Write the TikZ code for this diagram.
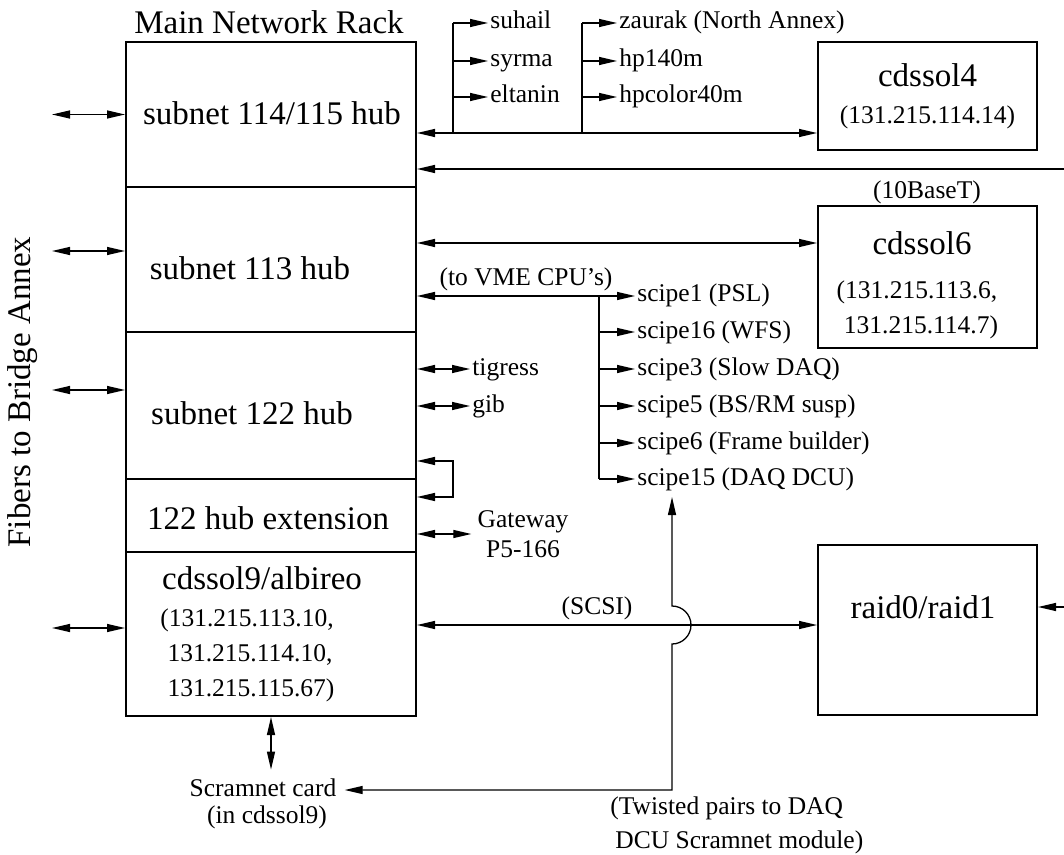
\documentclass[tikz,border=0pt]{standalone}
\usepackage{fontspec}
\setmainfont{Liberation Serif}
\usetikzlibrary{shapes, arrows, arrows.meta}
\newcommand{\bigtxt}{\fontsize{16.5}{19.8}\selectfont}
\newcommand{\smalltxt}{\fontsize{12.75}{15.3}\selectfont}
\tikzstyle{rack} = [rectangle, draw=black, line width=1pt, minimum width=145pt, inner sep=0pt]
\tikzstyle{host} = [rectangle, draw=black, line width=1pt, minimum width=109.5pt, inner sep=0pt]
\tikzstyle{bigtext} = [font=\bigtxt, inner sep=0pt]
\tikzstyle{smalltext} = [font=\smalltxt, inner sep=0pt]
\tikzstyle{tap} = [font=\smalltxt, anchor=west, inner sep=1pt, text height=9pt, text depth=3pt]
\tikzstyle{wire} = [line width=0.65pt]
\tikzstyle{arrow} = [wire, -{Triangle[length=9pt, width=4pt]}]
\tikzstyle{dblarrow} = [wire, {Triangle[length=9pt, width=4pt]}-{Triangle[length=9pt, width=4pt]}]
\tikzstyle{linelabel} = [font=\smalltxt, above, inner sep=2pt]

\begin{document}
\begin{tikzpicture}[x=0.5pt, y=-0.5pt]
    \useasboundingbox (0,0) rectangle (1064,855);
    % Nodes
    \node (hubA) [rack, minimum height=72.5pt] at (271,114.5) {};
    \node (hubB) [rack, minimum height=72.5pt] at (271,259.5) {};
    \node (hubC) [rack, minimum height=73.5pt] at (271,405.5) {};
    \node (hubExt) [rack, minimum height=36.5pt] at (271,515.5) {};
    \node (sol9) [rack, minimum height=82pt] at (271,634) {};
    \node (rackname) [bigtext] at (269,22) {Main Network Rack};
    \node (hubAname) [bigtext] at (272,113) {subnet 114/115 hub};
    \node (hubBname) [bigtext] at (250,268) {subnet 113 hub};
    \node (hubCname) [bigtext] at (252,413) {subnet 122 hub};
    \node (hubExtname) [bigtext] at (268,518) {122 hub extension};
    \node (sol9name) [bigtext] at (262,578) {cdssol9/albireo};
    \node (sol9ipA) [smalltext] at (247,620) {(131.215.113.10,};
    \node (sol9ipB) [smalltext] at (250,655) {131.215.114.10,};
    \node (sol9ipC) [smalltext] at (251,690) {131.215.115.67)};
    \node (fibers) [bigtext, rotate=90] at (23,392) {Fibers to Bridge Annex};

    \node (sol4) [host, minimum height=54pt] at (927.5,96) {};
    \node (sol4name) [bigtext] at (927.5,75) {cdssol4};
    \node (sol4ip) [smalltext] at (927.5,117) {(131.215.114.14)};
    \node (tenbase) [smalltext] at (927,192) {(10BaseT)};
    \node (sol6) [host, minimum height=71pt] at (927.5,277) {};
    \node (sol6name) [bigtext] at (922,243) {cdssol6};
    \node (sol6ipA) [smalltext] at (917,292) {(131.215.113.6,};
    \node (sol6ipB) [smalltext] at (921,327) {131.215.114.7)};
    \node (raid) [host, minimum height=85pt] at (927.5,630) {};
    \node (raidname) [bigtext] at (923,607) {raid0/raid1};

    \node (suhail) [tap] at (488,23) {suhail};
    \node (syrma) [tap] at (488,61) {syrma};
    \node (eltanin) [tap] at (488,97) {eltanin};
    \node (zaurak) [tap] at (617,23) {zaurak (North Annex)};
    \node (hpA) [tap] at (617,61) {hp140m};
    \node (hpB) [tap] at (617,97) {hpcolor40m};
    \node (scipeA) [tap] at (635,296) {scipe1 (PSL)};
    \node (scipeB) [tap] at (635,332) {scipe16 (WFS)};
    \node (scipeC) [tap] at (635,369) {scipe3 (Slow DAQ)};
    \node (scipeD) [tap] at (635,406) {scipe5 (BS/RM susp)};
    \node (scipeE) [tap] at (635,443) {scipe6 (Frame builder)};
    \node (scipeF) [tap] at (635,479) {scipe15 (DAQ DCU)};
    \node (tigress) [tap] at (470,369) {tigress};
    \node (gib) [tap] at (470,406) {gib};
    \node (gw) [smalltext, align=center, inner sep=3pt] at (523,534) {Gateway\\P5-166};
    \node (scram) [tap, anchor=center] at (263,790) {Scramnet card};
    \node (scramsub) [smalltext] at (267,817) {(in cdssol9)};
    \node (twisted) [smalltext, anchor=west, align=left, font=\fontsize{12.75}{17}\selectfont] at (610,825) {(Twisted pairs to DAQ\\\hspace*{2.5pt}DCU Scramnet module)};

    \coordinate (tapA) at (453,133);
    \coordinate (tapB) at (582,133);
    \coordinate (tenout) at (1064,169);
    \coordinate (vme) at (599,296);
    \coordinate (loopA) at (453,461);
    \coordinate (loopB) at (453,497);
    \coordinate (hop) at (672,625);
    \coordinate (dcu) at (672,497);
    \coordinate (raidin) at (1064,607);

    % Arrows
    \foreach \n/\s in {hubA/0pt, hubB/4.25pt, hubC/7.75pt, sol9/3pt}
        \draw [dblarrow] ([xshift=-36.5pt, yshift=\s]\n.west) -- ([yshift=\s]\n.west);
    \draw [dblarrow] (hubA.east |- tapA) -- (sol4.west |- tapA);
    \draw [wire] (tapA) -- (tapA |- suhail.west);
    \foreach \n in {suhail, syrma, eltanin}
        \draw [arrow] (tapA |- \n.west) -- (\n.west);
    \draw [wire] (tapB) -- (tapB |- zaurak.west);
    \foreach \n in {zaurak, hpA, hpB}
        \draw [arrow] (tapB |- \n.west) -- (\n.west);
    \draw [arrow] (tenout) -- (hubA.east |- tenout);
    \draw [dblarrow] (hubB.east |- sol6name) -- (sol6.west |- sol6name);
    \draw [dblarrow] (hubB.east |- scipeA.west) -- node[linelabel] {(to VME CPU's)} (scipeA.west);
    \draw [wire] (vme) -- (vme |- scipeF.west);
    \foreach \n in {scipeB, scipeC, scipeD, scipeE, scipeF}
        \draw [arrow] (vme |- \n.west) -- (\n.west);
    \draw [dblarrow] (hubC.east |- tigress.west) -- (tigress.west);
    \draw [dblarrow] (hubC.east |- gib.west) -- (gib.west);
    \draw [dblarrow] (hubC.east |- loopA) -- (loopA) -- (loopB) -- (hubExt.east |- loopB);
    \draw [dblarrow] (hubExt.east |- gw.west) -- (gw.west);
    \draw [dblarrow] (sol9.east |- hop) -- node[linelabel, pos=0.45] {(SCSI)} (raid.west |- hop);
    \draw [dblarrow] (dcu) -- ([yshift=9.5pt]hop) arc [start angle=90, end angle=-90, radius=9.5pt] -- (hop |- scram.east) -- ([xshift=3pt]scram.east);
    \draw [dblarrow] (sol9.south) -- ([yshift=3pt]sol9.south |- scram.north);
    \draw [arrow] (raidin) -- (raid.east |- raidin);

  \end{tikzpicture}
\end{document}
